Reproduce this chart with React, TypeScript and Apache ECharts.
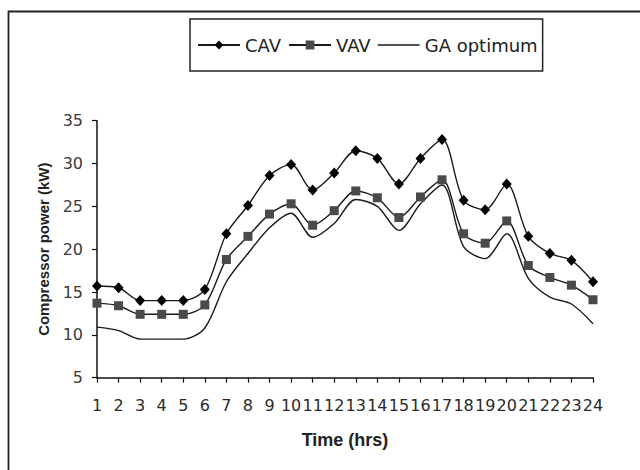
import React, { useEffect, useRef } from "react";
import * as echarts from "echarts";

const hours = ["1","2","3","4","5","6","7","8","9","10","11","12","13","14","15","16","17","18","19","20","21","22","23","24"];
const cav = [15.7, 15.5, 14.0, 14.0, 14.0, 15.3, 21.8, 25.1, 28.6, 29.9, 26.9, 28.9, 31.5, 30.6, 27.6, 30.6, 32.8, 25.7, 24.6, 27.6, 21.5, 19.5, 18.7, 16.2];
const vav = [13.7, 13.4, 12.4, 12.4, 12.4, 13.5, 18.8, 21.5, 24.1, 25.3, 22.8, 24.5, 26.8, 26.0, 23.7, 26.1, 28.1, 21.8, 20.7, 23.3, 18.1, 16.7, 15.8, 14.1];
const gaOptimum = [10.9, 10.5, 9.5, 9.5, 9.5, 10.8, 16.2, 19.5, 22.5, 24.2, 21.4, 23.0, 25.8, 25.0, 22.2, 25.3, 27.5, 20.3, 18.9, 21.8, 16.6, 14.4, 13.6, 11.3];

const FONT = "'DejaVu Sans', sans-serif";
const TITLE_FONT = "'Liberation Sans', Arial, Helvetica, sans-serif";

export default function App() {
  const ref = useRef<HTMLDivElement>(null);
  useEffect(() => {
    if (!ref.current) return;
    const chart = echarts.init(ref.current, null, { renderer: "svg" });
    const lineColor = "#1a1a1a";
    chart.setOption({
      animation: false,
      backgroundColor: "#ffffff",
      textStyle: { fontFamily: FONT },
      graphic: [
        {
          type: "rect",
          shape: { x: 8.5, y: 11.5, width: 700, height: 520 },
          style: { fill: "none", stroke: "#222", lineWidth: 1.8 },
          silent: true,
        },
      ],
      legend: {
        left: 190,
        top: 19,
        orient: "horizontal",
        padding: [17, 5, 17, 7],
        itemGap: 7,
        itemWidth: 42,
        itemHeight: 11,
        borderColor: "#222",
        borderWidth: 1.5,
        textStyle: { fontSize: 18, color: "#222", fontFamily: FONT },
        data: [
          { name: "CAV" },
          { name: "VAV" },
          { name: "GA optimum", icon: "path://M0 0H42V1.3H0Z" },
        ],
      },
      grid: { left: 97, right: 47, top: 120.7, bottom: 92.3 },
      xAxis: {
        type: "category",
        data: hours,
        boundaryGap: false,
        name: "Time (hrs)",
        nameLocation: "middle",
        nameGap: 53,
        nameTextStyle: { fontSize: 18, fontWeight: "bold", color: "#222", fontFamily: TITLE_FONT },
        axisLine: { lineStyle: { color: "#111", width: 1.5 } },
        axisTick: { show: true, inside: false, length: 5, interval: 0, lineStyle: { color: "#111", width: 1.2 } },
        axisLabel: { interval: 0, margin: 20, fontSize: 16, color: "#2a2a2a", fontFamily: FONT },
        splitLine: { show: false },
      },
      yAxis: {
        type: "value",
        min: 5,
        max: 35,
        interval: 5,
        name: "Compressor power (kW)",
        nameLocation: "middle",
        nameGap: 46,
        nameRotate: 90,
        nameTextStyle: { fontSize: 15, fontWeight: "bold", color: "#222", fontFamily: TITLE_FONT },
        axisLine: { show: true, lineStyle: { color: "#111", width: 1.5 } },
        axisTick: { show: true, inside: false, length: 5, lineStyle: { color: "#111", width: 1.2 } },
        axisLabel: { margin: 14, fontSize: 16, color: "#3a3a3a", fontFamily: FONT },
        splitLine: { show: false },
      },
      series: [
        {
          name: "CAV",
          type: "line",
          data: cav,
          smooth: 0.3,
          symbol: "diamond",
          symbolSize: [10, 11],
          lineStyle: { color: lineColor, width: 1.4 },
          itemStyle: { color: "#000" },
        },
        {
          name: "VAV",
          type: "line",
          data: vav,
          smooth: 0.3,
          symbol: "rect",
          symbolSize: 9,
          lineStyle: { color: lineColor, width: 1.4 },
          itemStyle: { color: "#4a4a4a" },
        },
        {
          name: "GA optimum",
          type: "line",
          data: gaOptimum,
          smooth: 0.3,
          symbol: "none",
          lineStyle: { color: lineColor, width: 1.4 },
          itemStyle: { color: lineColor },
        },
      ],
    });
    return () => chart.dispose();
  }, []);
  return (
    <div
      ref={ref}
      style={{ position: "fixed", left: 0, top: 0, width: 640, height: 470, background: "#fff" }}
    />
  );
}
